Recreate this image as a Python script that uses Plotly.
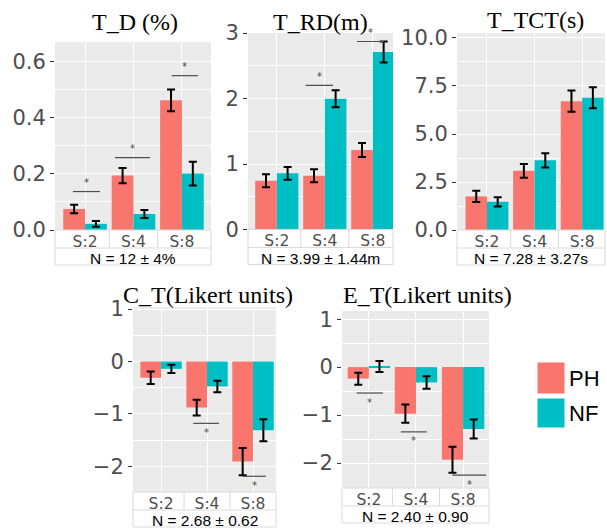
import plotly.graph_objects as go

# ---------------- data ----------------
categories = ["S:2", "S:4", "S:8"]
groups = ["PH", "NF"]
colors = ["#F8766D", "#00BFC4"]

titles = ["T_D (%)", "T_RD(m)", "T_TCT(s)", "C_T(Likert units)", "E_T(Likert units)"]
n_labels = ["N = 12 ± 4%", "N = 3.99 ± 1.44m", "N = 7.28 ± 3.27s",
            "N = 2.68 ± 0.62", "N = 2.40 ± 0.90"]

td_ph = [0.075, 0.194, 0.462]
td_ph_err = [0.015, 0.027, 0.039]
td_nf = [0.022, 0.057, 0.201]
td_nf_err = [0.010, 0.014, 0.042]

trd_ph = [0.745, 0.82, 1.214]
trd_ph_err = [0.10, 0.10, 0.107]
trd_nf = [0.857, 1.995, 2.71]
trd_nf_err = [0.097, 0.13, 0.16]

ttct_ph = [1.75, 3.08, 6.71]
ttct_ph_err = [0.29, 0.36, 0.55]
ttct_nf = [1.47, 3.63, 6.89]
ttct_nf_err = [0.24, 0.37, 0.55]

ct_ph = [-0.31, -0.88, -1.91]
ct_ph_err = [0.12, 0.15, 0.26]
ct_nf = [-0.14, -0.475, -1.31]
ct_nf_err = [0.08, 0.11, 0.21]

et_ph = [-0.24, -0.97, -1.93]
et_ph_err = [0.125, 0.19, 0.27]
et_nf = [0.015, -0.32, -1.29]
et_nf_err = [0.115, 0.13, 0.20]

# significance markers: (x0, x1, y) in category-index units
sig_td = [(-0.25, 0.31, 0.137), (0.62, 1.34, 0.258), (1.79, 2.33, 0.55)]
sig_trd = [(0.60, 1.17, 2.20), (1.67, 2.23, 2.87)]
sig_ttct = []
sig_ct = [(0.70, 1.26, -1.18), (1.78, 2.28, -2.19)]
sig_et = [(-0.26, 0.30, -0.54), (0.68, 1.23, -1.35), (1.77, 2.49, -2.25)]

values = [(td_ph, td_ph_err, td_nf, td_nf_err),
          (trd_ph, trd_ph_err, trd_nf, trd_nf_err),
          (ttct_ph, ttct_ph_err, ttct_nf, ttct_nf_err),
          (ct_ph, ct_ph_err, ct_nf, ct_nf_err),
          (et_ph, et_ph_err, et_nf, et_nf_err)]
sigs = [sig_td, sig_trd, sig_ttct, sig_ct, sig_et]
star_above = [True, True, True, False, False]

# ---------------- layout geometry (pixels) ----------------
W, H = 607, 529
# (left, right, top, bottom) of each grey panel
panels_px = [(55, 211, 42, 230), (248, 393, 33, 229.5), (457, 605, 33, 230),
             (133, 276, 307, 492), (342, 489, 311, 488)]
yranges = [[0, 0.67], [0, 3.0], [0, 10.26], [-2.49, 1.04], [-2.52, 1.17]]
xranges = [[-0.62, 2.6], [-0.6, 2.42], [-0.63, 2.48], [-0.61, 2.5], [-0.57, 2.55]]
ydticks = [0.2, 1, 2.5, 1, 1]
yformats = [".1f", "d", ".1f", "d", "d"]
title_pos = [(135, 22), (320, 22), (535, 20), (208, 295), (427, 295)]


def px_x(v):
    return v / W


def px_y(v):
    return 1 - v / H


fig = go.Figure()
layout = dict(width=W, height=H, margin=dict(l=0, r=0, t=0, b=0, autoexpand=False),
              paper_bgcolor="white", plot_bgcolor="#EBEBEB",
              barmode="group", bargap=0.1, bargroupgap=0, showlegend=False)
shapes = []
annotations = []
grid_col = "white"
tab_col = "#DADADA"

for i in range(5):
    k = "" if i == 0 else str(i + 1)
    xa, ya = "x" + k, "y" + k
    l, r, t, b = panels_px[i]
    ph, phe, nf, nfe = values[i]
    for g, (v, e) in enumerate([(ph, phe), (nf, nfe)]):
        fig.add_trace(go.Bar(
            x=categories, y=v, name=groups[g], marker_color=colors[g],
            marker_line_width=0, xaxis=xa, yaxis=ya, offsetgroup=str(g),
            error_y=dict(type="data", array=e, color="black", thickness=2, width=4),
        ))
    layout["xaxis" + k] = dict(
        domain=[px_x(l), px_x(r)], anchor=ya, type="category",
        categoryorder="array", categoryarray=categories, automargin=False,
        range=xranges[i], showgrid=True, gridcolor=grid_col, gridwidth=1.4,
        ticks="", showline=False, zeroline=False,
        tickfont=dict(family="DejaVu Sans", size=15.5, color="#4D4D4D"),
        ticklabelstandoff=0,
    )
    layout["yaxis" + k] = dict(
        domain=[px_y(b), px_y(t)], anchor=xa, range=yranges[i], automargin=False,
        dtick=ydticks[i], tick0=0, tickformat=yformats[i],
        showgrid=True, gridcolor=grid_col, gridwidth=1.4, zeroline=False,
        ticks="outside", ticklen=4, tickwidth=1.3, tickcolor="#333333",
        showline=False,
        tickfont=dict(family="DejaVu Sans", size=21, color="#4D4D4D"),
        minor=dict(dtick=ydticks[i] / 2, tick0=0, showgrid=True,
                   gridcolor=grid_col, gridwidth=0.6, ticks=""),
    )
    # significance lines and stars
    for (x0, x1, yv) in sigs[i]:
        shapes.append(dict(type="line", xref=xa, yref=ya, x0=x0, x1=x1,
                           y0=yv, y1=yv, line=dict(color="#4D4D4D", width=1.2)))
        annotations.append(dict(xref=xa, yref=ya, x=(x0 + x1) / 2, y=yv,
                                text="*", showarrow=False,
                                yshift=9 if star_above[i] else -9,
                                font=dict(family="DejaVu Sans", size=10, color="#444444")))
    # table under the panel
    row1 = b + 18
    row2 = b + 35
    shapes.append(dict(type="rect", xref="paper", yref="paper",
                       x0=px_x(l), x1=px_x(r), y0=px_y(row2), y1=px_y(b),
                       line=dict(color=tab_col, width=1), fillcolor="rgba(0,0,0,0)"))
    shapes.append(dict(type="line", xref="paper", yref="paper",
                       x0=px_x(l), x1=px_x(r), y0=px_y(row1), y1=px_y(row1),
                       line=dict(color=tab_col, width=1)))
    for cb in [0.5, 1.5]:
        shapes.append(dict(type="line", xref=xa, yref="paper",
                           x0=cb, x1=cb, y0=px_y(row1), y1=px_y(b),
                           line=dict(color=tab_col, width=1)))
    annotations.append(dict(xref="paper", yref="paper", x=px_x((l + r) / 2),
                            y=px_y(row1 + 10.5), text=n_labels[i],
                            showarrow=False, xanchor="center", yanchor="middle",
                            font=dict(family="Liberation Sans", size=15.5, color="black")))
    tx, ty = title_pos[i]
    annotations.append(dict(xref="paper", yref="paper", x=px_x(tx), y=px_y(ty),
                            text=titles[i], showarrow=False, xanchor="center",
                            yanchor="middle",
                            font=dict(family="Liberation Serif", size=24, color="black")))

# legend (drawn manually)
leg_boxes = [(537, 565, 362, 394), (537, 565, 398, 428)]
for g in range(2):
    x0, x1, y0, y1 = leg_boxes[g]
    shapes.append(dict(type="rect", xref="paper", yref="paper",
                       x0=px_x(x0), x1=px_x(x1), y0=px_y(y1), y1=px_y(y0),
                       fillcolor=colors[g], line=dict(color="white", width=1)))
    annotations.append(dict(xref="paper", yref="paper", x=px_x(x1 + 2),
                            y=px_y((y0 + y1) / 2), text=groups[g], showarrow=False,
                            xanchor="left", yanchor="middle",
                            font=dict(family="Liberation Sans", size=22, color="black")))

layout["shapes"] = shapes
layout["annotations"] = annotations
fig.update_layout(**layout)
fig.write_html("out.html", config={"displayModeBar": False},
               post_script="document.body.style.margin='0';document.body.style.overflow='hidden';")
